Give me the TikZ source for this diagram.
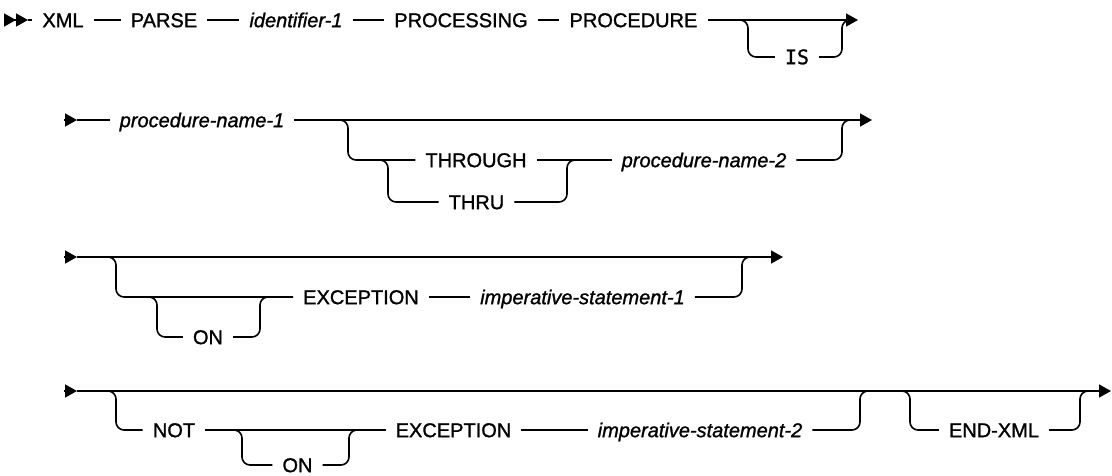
\documentclass[tikz,border=0pt]{standalone}
\usepackage{fontspec}
\setmainfont{Liberation Sans}[FakeBold=1.2, ItalicFeatures={FakeBold=1.2}]
\newfontfamily\plexmono{DejaVu Sans Mono}[FakeBold=1.2]
\usepackage{tikz}
\usetikzlibrary{calc, arrows.meta}

\begin{document}
\begin{tikzpicture}[x=1pt, y=-1pt,
    font=\fontsize{20}{23}\selectfont,
    rail/.style={line width=1.6pt, rounded corners=8pt},
    tip/.style={-{Triangle[length=12pt, width=13pt]}},
    kw/.style={inner xsep=10pt, inner ysep=0pt, text height=14.3pt, text depth=0pt},
    var/.style={kw, font=\fontsize{20}{23}\selectfont\itshape},
    lit/.style={kw, font=\fontsize{20}{23}\selectfont\plexmono}]
    \useasboundingbox (0,0) rectangle (1112,475);

    % --- line 1: XML PARSE identifier-1 PROCESSING PROCEDURE [IS]
    \coordinate (s0) at (4,20);
    \coordinate (s1) at (28,20);
    \coordinate (e1) at (858,20);
    \node[kw]  (xml)        at (63,20)    {XML};
    \node[kw]  (parse)      at (164,20)   {PARSE};
    \node[var] (id1)        at (296,20)   {identifier-1};
    \node[kw]  (processing) at (461,20)   {PROCESSING};
    \node[kw]  (procedure)  at (633.5,20) {PROCEDURE};
    \node[lit] (is)         at (797,57)   {IS};

    \draw[line width=1.6pt, -{Triangle[length=12pt, width=13pt, sep=0pt]Triangle[length=12pt, width=13pt]}] (s0) -- (s1);
    \draw[rail] (s1) -- (xml);
    \draw[rail] (xml) -- (parse);
    \draw[rail] (parse) -- (id1);
    \draw[rail] (id1) -- (processing);
    \draw[rail] (processing) -- (procedure);
    \draw[rail, tip] (procedure) -- (e1);
    % optional IS
    \coordinate (isa) at (740,20);
    \coordinate (isb) at (850,20);
    \draw[rail] (isa) -- ++(8,0) |- (is);
    \draw[rail] (is) -| ($(isb)+(-8,0)$) -- (isb);

    % --- line 2: procedure-name-1 [THROUGH|THRU procedure-name-2]
    \coordinate (s2)  at (64,120);
    \coordinate (s2t) at (77,120);
    \coordinate (e2)  at (872,120);
    \node[var] (pn1)     at (202,120) {procedure-name-1};
    \node[kw]  (through) at (476,160) {THROUGH};
    \node[kw]  (thru)    at (476.5,202) {THRU};
    \node[var] (pn2)     at (704,160) {procedure-name-2};

    \draw[rail, tip] (s2) -- (s2t);
    \draw[rail] (s2t) -- (pn1);
    \draw[rail, tip] (pn1) -- (e2);
    \coordinate (ta) at (340,120);
    \coordinate (tb) at (380,160);
    \coordinate (tc) at (575,160);
    \coordinate (td) at (850,120);
    \draw[rail] (ta) -- ++(8,0) |- (through);
    \draw[rail] (tb) -- ++(8,0) |- (thru);
    \draw[rail] (thru) -| ($(tc)+(-8,0)$) -- (tc);
    \draw[rail] (through) -- (pn2);
    \draw[rail] (pn2) -| ($(td)+(-8,0)$) -- (td);

    % --- line 3: [[ON] EXCEPTION imperative-statement-1]
    \coordinate (s3)  at (64,257);
    \coordinate (s3t) at (77,257);
    \coordinate (e3)  at (783,257);
    \node[kw]  (on1)  at (208,337)   {ON};
    \node[kw]  (exc1) at (361,297)   {EXCEPTION};
    \node[var] (imp1) at (582.5,297) {imperative-statement-1};

    \draw[rail, tip] (s3) -- (s3t);
    \draw[rail, tip] (s3t) -- (e3);
    \coordinate (oa) at (108,257);
    \coordinate (ob) at (149,297);
    \coordinate (oc) at (268,297);
    \coordinate (od) at (750,257);
    \draw[rail] (oa) -- ++(8,0) |- (exc1);
    \draw[rail] (ob) -- ++(8,0) |- (on1);
    \draw[rail] (on1) -| ($(oc)+(-8,0)$) -- (oc);
    \draw[rail] (exc1) -- (imp1);
    \draw[rail] (imp1) -| ($(od)+(-8,0)$) -- (od);

    % --- line 4: [NOT [ON] EXCEPTION imperative-statement-2] [END-XML]
    \coordinate (s4)  at (64,391);
    \coordinate (s4t) at (77,391);
    \coordinate (e4)  at (1111,391);
    \node[kw]  (nt)     at (174,430)   {NOT};
    \node[kw]  (on2)    at (297.5,465) {ON};
    \node[kw]  (exc2)   at (453.5,430) {EXCEPTION};
    \node[var] (imp2)   at (700,430)   {imperative-statement-2};
    \node[kw]  (endxml) at (994,430)   {END-XML};

    \draw[rail, tip] (s4) -- (s4t);
    \draw[rail, tip] (s4t) -- (e4);
    \coordinate (na) at (108,391);
    \coordinate (nb) at (234,430);
    \coordinate (nc) at (357,430);
    \coordinate (nd) at (868,391);
    \coordinate (xa) at (902,391);
    \coordinate (xb) at (1088,391);
    \draw[rail] (na) -- ++(8,0) |- (nt);
    \draw[rail] (nt) -- (exc2);
    \draw[rail] (nb) -- ++(8,0) |- (on2);
    \draw[rail] (on2) -| ($(nc)+(-8,0)$) -- (nc);
    \draw[rail] (exc2) -- (imp2);
    \draw[rail] (imp2) -| ($(nd)+(-8,0)$) -- (nd);
    % optional END-XML
    \draw[rail] (xa) -- ++(8,0) |- (endxml);
    \draw[rail] (endxml) -| ($(xb)+(-8,0)$) -- (xb);
  \end{tikzpicture}
\end{document}
